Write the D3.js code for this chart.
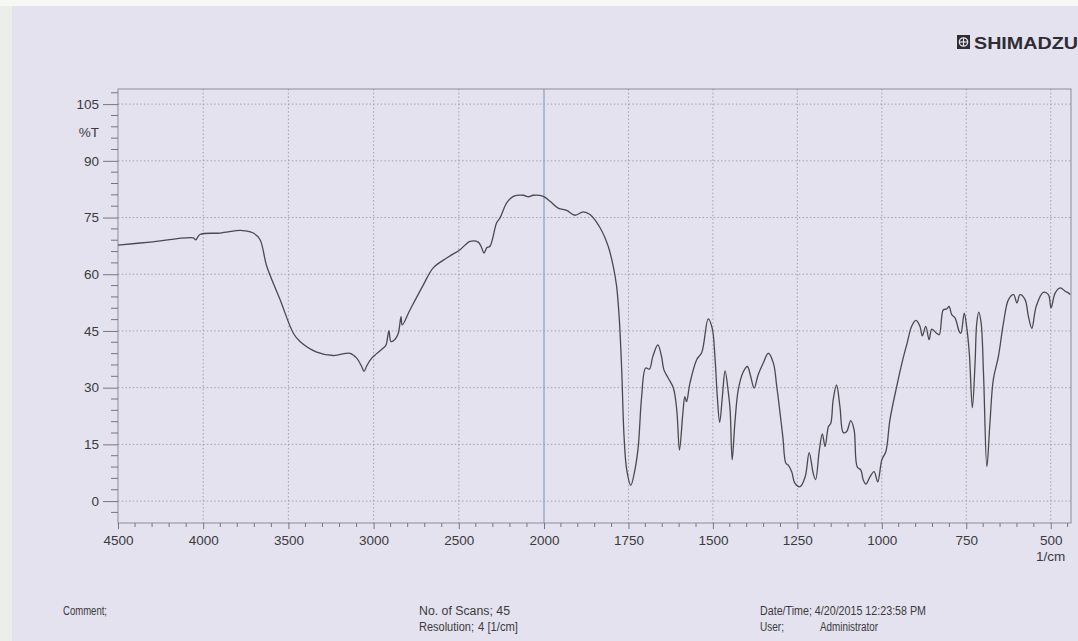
<!DOCTYPE html>
<html>
<head>
<meta charset="utf-8">
<script src="https://cdn.jsdelivr.net/npm/d3@7"></script>
<style>
  html, body { margin: 0; padding: 0; background: #e4e2ee; }
  svg { display: block; }
  .tick text { font-family: "Liberation Sans", Arial, sans-serif; }
</style>
</head>
<body>
<svg id="chart" width="1078" height="641"></svg>
<script>
// FTIR spectrum: wavenumber (1/cm) and transmittance (%T)
const wavenumber = [
  4500, 4312, 4058, 4044, 4019, 3901, 3784, 3755, 3706, 3667,
  3627, 3549, 3471, 3432, 3334, 3236, 3138, 3099, 3070, 3056,
  3040, 3011, 2982, 2943, 2927, 2910, 2898, 2874, 2855, 2839,
  2832, 2786, 2708, 2650, 2571, 2493, 2434, 2386, 2366, 2352,
  2336, 2317, 2278, 2258, 2219, 2180, 2121, 2092, 2063, 2004,
  1982, 1958, 1933, 1908, 1884, 1864, 1834, 1810, 1795, 1785,
  1777, 1770, 1763, 1755, 1743, 1731, 1721, 1711, 1699, 1688,
  1678, 1663, 1652, 1645, 1632, 1617, 1607, 1599, 1589, 1583,
  1578, 1568, 1548, 1533, 1514, 1502, 1494, 1487, 1480, 1472,
  1464, 1454, 1449, 1443, 1435, 1425, 1410, 1398, 1388, 1378,
  1366, 1351, 1336, 1321, 1311, 1303, 1293, 1284, 1277, 1267,
  1257, 1242, 1227, 1215, 1203, 1196, 1185, 1176, 1168, 1158,
  1151, 1144, 1134, 1124, 1114, 1104, 1092, 1082, 1073, 1062,
  1055, 1047, 1035, 1023, 1012, 1000, 988, 976, 956, 938,
  925, 912, 899, 887, 880, 870, 860, 852, 838, 830,
  818, 808, 801, 793, 783, 771, 766, 756, 749, 741,
  732, 724, 719, 713, 706, 699, 689, 680, 670, 655,
  640, 625, 610, 600, 591, 576, 566, 556, 543, 522,
  507, 499, 487, 472, 457, 447, 442
];
const transmittance = [
  67.7, 68.5, 69.6, 69.1, 70.5, 70.9, 71.6, 71.5, 70.9, 69.2,
  62.1, 53.3, 44.4, 42.2, 39.4, 38.5, 39.1, 37.8, 35.6, 34.3,
  35.8, 37.8, 39.0, 40.5, 41.3, 45.1, 42.2, 42.8, 44.4, 48.8,
  46.6, 50.6, 57.2, 61.7, 64.3, 66.5, 68.7, 68.5, 67.0, 65.6,
  67.0, 67.4, 73.6, 74.9, 78.9, 80.6, 80.9, 80.5, 80.9, 80.6,
  79.3, 77.5, 76.9, 75.6, 76.5, 75.8, 72.3, 67.4, 62.1, 56.8,
  48.0, 34.7, 17.0, 8.2, 4.2, 8.2, 14.4, 27.6, 35.2, 34.9,
  38.2, 41.3, 38.2, 34.7, 32.5, 29.9, 24.1, 13.5, 23.2, 27.6,
  26.3, 31.2, 37.4, 39.3, 48.2, 45.7, 38.2, 27.6, 20.8, 27.6,
  34.4, 28.5, 24.1, 10.9, 20.6, 29.4, 34.2, 35.6, 32.9, 29.9,
  33.4, 36.5, 39.1, 36.5, 30.3, 24.6, 17.0, 10.0, 9.5, 7.8,
  4.7, 3.8, 6.4, 12.8, 7.3, 5.7, 13.5, 17.8, 14.4, 19.7,
  20.6, 26.8, 30.7, 25.0, 18.1, 18.4, 21.3, 18.8, 9.1, 8.2,
  5.6, 4.5, 6.4, 7.8, 5.1, 10.9, 13.1, 21.5, 30.3, 37.4,
  41.8, 46.2, 47.8, 46.2, 43.7, 46.2, 42.7, 45.5, 44.4, 44.0,
  50.6, 50.8, 51.5, 49.3, 48.4, 44.9, 44.4, 49.7, 46.2, 39.1,
  24.7, 36.5, 47.1, 50.0, 47.1, 33.8, 9.1, 20.6, 32.1, 38.2,
  47.1, 53.3, 54.6, 52.4, 54.6, 53.3, 48.8, 45.7, 51.5, 55.2,
  54.6, 51.1, 55.0, 56.4, 55.5, 55.0, 54.6
];

// Axis ticks and labels
const xMajorTicks = [4500, 4000, 3500, 3000, 2500, 2000, 1750, 1500, 1250, 1000, 750, 500];
const xMinorTicks = d3.range(4400, 2000, -100).concat(d3.range(1950, 440, -50));
const yMajorTicks = [0, 15, 30, 45, 60, 75, 90, 105];
const yMinorTicks = d3.range(-3, 109, 3);
const yUnitLabel = "%T";
const xUnitLabel = "1/cm";
const footerLeft = ["Comment;"];
const footerMiddle = ["No. of Scans; 45", "Resolution;"];
const resolutionValue = "4 [1/cm]";
const footerRightA = "Date/Time; 4/20/2015 12:23:58 PM";
const footerRightUser = "User;";
const footerRightName = "Administrator";
const brand = "SHIMADZU";

const W = 1078, H = 641;
const plot = { left: 118, right: 1071, top: 89, bottom: 523 };

// two-range wavenumber axis: 4500–2000 compressed, 2000–440 expanded
const x = d3.scaleLinear().domain([4500, 2000, 440]).range([plot.left, 544, plot.right]);
const y = d3.scaleLinear().domain([-5.8, 109]).range([plot.bottom, plot.top]);

const svg = d3.select("#chart");

// paper
svg.append("rect").attr("width", W).attr("height", H).attr("fill", "#e4e2ee");
svg.append("rect").attr("x", 0).attr("y", 0).attr("width", 12).attr("height", H).attr("fill", "#eceeea");
svg.append("rect").attr("x", 0).attr("y", 0).attr("width", W).attr("height", 6).attr("fill", "#f7f8f6");

// brand logo
const logo = svg.append("g").attr("transform", "translate(957,35)");
logo.append("rect").attr("width", 13).attr("height", 14).attr("fill", "#2d2d33");
logo.append("circle").attr("cx", 6.5).attr("cy", 7).attr("r", 4.2).attr("fill", "none").attr("stroke", "#e4e2ee").attr("stroke-width", 1.3);
logo.append("line").attr("x1", 6.5).attr("x2", 6.5).attr("y1", 2.8).attr("y2", 11.2).attr("stroke", "#e4e2ee").attr("stroke-width", 1.2);
logo.append("line").attr("x1", 2.3).attr("x2", 10.7).attr("y1", 7).attr("y2", 7).attr("stroke", "#e4e2ee").attr("stroke-width", 1.2);
svg.append("text").attr("x", 974).attr("y", 48.5)
  .attr("font-family", "Liberation Sans, Arial, sans-serif").attr("font-weight", "bold")
  .attr("font-size", 17).attr("fill", "#2d2d33")
  .attr("textLength", 104).attr("lengthAdjust", "spacingAndGlyphs")
  .text(brand);

// grid
const grid = svg.append("g");
grid.selectAll("line.hg").data(yMajorTicks).join("line")
  .attr("x1", plot.left).attr("x2", plot.right)
  .attr("y1", d => y(d)).attr("y2", d => y(d))
  .attr("stroke", "#9d9aa8").attr("stroke-width", 0.9).attr("stroke-dasharray", "1.5,2.2");
grid.selectAll("line.vg").data(xMajorTicks.filter(d => d !== 4500 && d !== 2000)).join("line")
  .attr("x1", d => x(d)).attr("x2", d => x(d))
  .attr("y1", plot.top).attr("y2", plot.bottom)
  .attr("stroke", "#9d9aa8").attr("stroke-width", 0.9).attr("stroke-dasharray", "1.5,2.2");
// range break at 2000
grid.append("line")
  .attr("x1", x(2000)).attr("x2", x(2000)).attr("y1", plot.top).attr("y2", plot.bottom)
  .attr("stroke", "#8296bb").attr("stroke-width", 1.1);

// frame
svg.append("rect")
  .attr("x", plot.left).attr("y", plot.top)
  .attr("width", plot.right - plot.left).attr("height", plot.bottom - plot.top)
  .attr("fill", "none").attr("stroke", "#8e8c9c").attr("stroke-width", 1);

// y axis
const yAxis = svg.append("g").attr("transform", `translate(${plot.left},0)`)
  .call(d3.axisLeft(y).tickValues(yMajorTicks).tickSize(15).tickPadding(4).tickFormat(d3.format("d")));
yAxis.select(".domain").remove();
yAxis.selectAll(".tick line").attr("stroke", "#77757f");
yAxis.selectAll(".tick text").attr("font-size", 13.5).attr("fill", "#3a3a40");
svg.append("g").selectAll("line").data(yMinorTicks.filter(d => !yMajorTicks.includes(d))).join("line")
  .attr("x1", plot.left - 7).attr("x2", plot.left)
  .attr("y1", d => y(d)).attr("y2", d => y(d))
  .attr("stroke", "#77757f").attr("stroke-width", 1);
svg.append("text").attr("x", 99).attr("y", y(97.5) + 5)
  .attr("text-anchor", "end").attr("font-family", "Liberation Sans, Arial, sans-serif")
  .attr("font-size", 13.5).attr("fill", "#3a3a40").text(yUnitLabel);

// x axis
const xAxis = svg.append("g").attr("transform", `translate(0,${plot.bottom})`)
  .call(d3.axisBottom(x).tickValues(xMajorTicks).tickSize(6).tickPadding(6).tickFormat(d3.format("d")));
xAxis.select(".domain").remove();
xAxis.selectAll(".tick line").attr("stroke", "#77757f");
xAxis.selectAll(".tick text").attr("font-size", 13.5).attr("fill", "#3a3a40");
svg.append("g").selectAll("line").data(xMinorTicks.filter(d => !xMajorTicks.includes(d))).join("line")
  .attr("x1", d => x(d)).attr("x2", d => x(d))
  .attr("y1", plot.bottom).attr("y2", plot.bottom + 4)
  .attr("stroke", "#77757f").attr("stroke-width", 1);
svg.append("text").attr("x", x(500)).attr("y", 561)
  .attr("text-anchor", "middle").attr("font-family", "Liberation Sans, Arial, sans-serif")
  .attr("font-size", 13.5).attr("fill", "#3a3a40").text(xUnitLabel);

// spectrum trace
const pts = wavenumber.map((w, i) => [w, transmittance[i]]);
const line = d3.line().x(d => x(d[0])).y(d => y(d[1])).curve(d3.curveCatmullRom.alpha(0.5));
svg.append("path").datum(pts)
  .attr("d", line).attr("fill", "none")
  .attr("stroke", "#4a4950").attr("stroke-width", 1.3).attr("stroke-linejoin", "round");

// footer (condensed print face)
const footFont = "'Liberation Sans Narrow', 'Arial Narrow', 'Liberation Sans', sans-serif";
const foot = svg.append("g").attr("font-family", footFont).attr("font-size", 12.5).attr("fill", "#3a3a40");
const footText = (tx, ty, str, len) => foot.append("text").attr("x", tx).attr("y", ty)
  .attr("textLength", len).attr("lengthAdjust", "spacingAndGlyphs").text(str);
footText(63, 615, footerLeft[0], 44);
footText(419, 615, footerMiddle[0], 91);
footText(419, 631, footerMiddle[1], 55);
footText(478, 631, resolutionValue, 40);
footText(760, 615, footerRightA, 166);
footText(760, 631, footerRightUser, 24);
footText(820, 631, footerRightName, 58);
</script>
</body>
</html>
